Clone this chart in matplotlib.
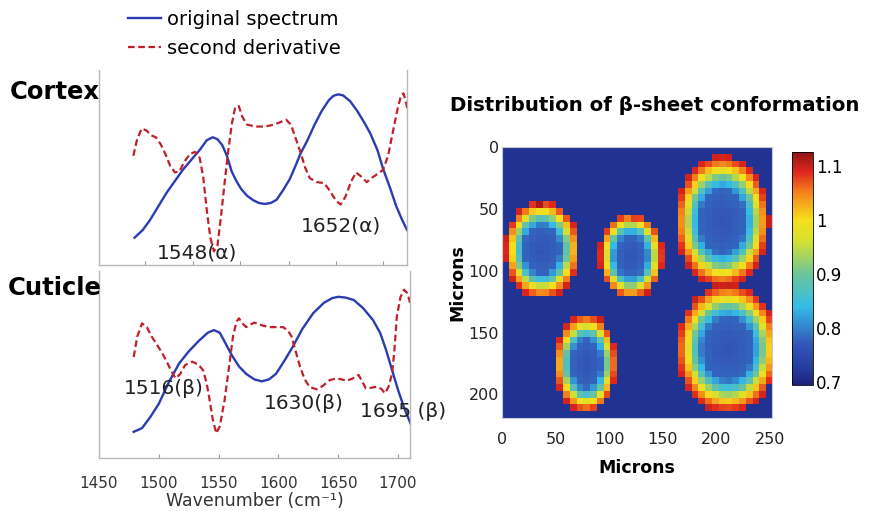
import numpy as np
import matplotlib
matplotlib.use('Agg')
import matplotlib.pyplot as plt
from matplotlib.colors import LinearSegmentedColormap, Normalize

# ── Spectra (wavenumber, relative height in panel) ───────────────────────────
CORTEX_WN_BLUE = [1480, 1487, 1493, 1500, 1507, 1514, 1521, 1528, 1535, 1541, 1546, 1550,
                  1554, 1558, 1562, 1566, 1570, 1575, 1580, 1585, 1590, 1595, 1600, 1605,
                  1611, 1616, 1620, 1626, 1632, 1638, 1644, 1648, 1652, 1656, 1662, 1668,
                  1674, 1679, 1685, 1690, 1696, 1701, 1706, 1710]
CORTEX_BLUE = [0.14, 0.18, 0.23, 0.30, 0.37, 0.43, 0.49, 0.54, 0.59, 0.64, 0.655, 0.645,
               0.615, 0.56, 0.48, 0.43, 0.39, 0.355, 0.333, 0.318, 0.313, 0.318, 0.335, 0.38,
               0.44, 0.51, 0.57, 0.64, 0.72, 0.79, 0.845, 0.868, 0.875, 0.87, 0.84, 0.79,
               0.73, 0.675, 0.59, 0.49, 0.39, 0.30, 0.23, 0.18]

CORTEX_WN_RED = [1479, 1482, 1486, 1490, 1494, 1498, 1502, 1506, 1510, 1514, 1518, 1522,
                 1527, 1531, 1535, 1538, 1541, 1544, 1547, 1550, 1553, 1556, 1559, 1562,
                 1565, 1568, 1571, 1575, 1582, 1590, 1598, 1604, 1608, 1612, 1616, 1620,
                 1624, 1628, 1634, 1640, 1645, 1650, 1654, 1658, 1663, 1667, 1672, 1676,
                 1681, 1686, 1690, 1694, 1698, 1702, 1705, 1707, 1709, 1711]
CORTEX_RED = [0.56, 0.64, 0.70, 0.69, 0.665, 0.655, 0.62, 0.57, 0.51, 0.475, 0.48, 0.53,
              0.57, 0.58, 0.55, 0.45, 0.28, 0.14, 0.07, 0.10, 0.25, 0.42, 0.58, 0.72,
              0.81, 0.815, 0.76, 0.72, 0.71, 0.71, 0.72, 0.735, 0.745, 0.72, 0.65, 0.58,
              0.50, 0.445, 0.425, 0.42, 0.38, 0.33, 0.31, 0.35, 0.43, 0.475, 0.45, 0.425,
              0.45, 0.47, 0.49, 0.56, 0.68, 0.80, 0.87, 0.88, 0.84, 0.78]

CUTICLE_WN_BLUE = [1479, 1486, 1493, 1500, 1508, 1517, 1525, 1534, 1541, 1546, 1551, 1556,
                   1561, 1567, 1573, 1580, 1586, 1592, 1598, 1605, 1612, 1620, 1629, 1638,
                   1645, 1650, 1656, 1663, 1671, 1679, 1685, 1690, 1695, 1700, 1705, 1711]
CUTICLE_BLUE = [0.14, 0.16, 0.22, 0.29, 0.40, 0.506, 0.57, 0.63, 0.67, 0.684, 0.67, 0.61,
                0.55, 0.49, 0.45, 0.42, 0.41, 0.42, 0.45, 0.52, 0.595, 0.69, 0.774, 0.83,
                0.855, 0.862, 0.858, 0.845, 0.80, 0.738, 0.67, 0.578, 0.47, 0.364, 0.27, 0.176]

CUTICLE_WN_RED = [1479, 1482, 1486, 1490, 1494, 1498, 1502, 1506, 1510, 1514, 1518, 1522,
                  1528, 1533, 1537, 1540, 1542, 1545, 1548, 1551, 1555, 1559, 1562, 1565,
                  1567, 1570, 1573, 1577, 1580, 1586, 1592, 1598, 1604, 1608, 1611, 1614,
                  1618, 1622, 1626, 1632, 1637, 1643, 1649, 1653, 1657, 1662, 1667, 1670,
                  1673, 1678, 1682, 1686, 1689, 1692, 1695, 1697, 1699, 1702, 1705, 1708, 1710]
CUTICLE_RED = [0.54, 0.65, 0.72, 0.70, 0.65, 0.61, 0.57, 0.524, 0.47, 0.426, 0.45, 0.497,
               0.515, 0.50, 0.47, 0.40, 0.328, 0.21, 0.132, 0.17, 0.31, 0.50, 0.65, 0.73,
               0.747, 0.72, 0.70, 0.715, 0.724, 0.71, 0.70, 0.70, 0.70, 0.68, 0.65, 0.58,
               0.49, 0.42, 0.38, 0.367, 0.385, 0.417, 0.426, 0.42, 0.413, 0.425, 0.444, 0.41,
               0.373, 0.376, 0.381, 0.37, 0.346, 0.38, 0.45, 0.58, 0.756, 0.86, 0.90, 0.88, 0.83]

CORTEX_NOTES = [('1548(α)', 1533, 0.06), ('1652(α)', 1654, 0.20)]
CUTICLE_NOTES = [('1516(β)', 1504, 0.374), ('1630(β)', 1621, 0.294), ('1695 (β)', 1704, 0.246)]

TOP_TICKS = [1489, 1529, 1569, 1610, 1650, 1690]
BOTTOM_TICKS = [1450, 1500, 1550, 1600, 1650, 1700]

# ── β-sheet map: fibre cross-sections as ellipses (microns) ─────────────────
ELL_CX = [37, 120, 205, 210, 78]
ELL_CY = [83, 88, 60, 163, 175]
ELL_RX = [35, 30, 44, 48, 29]
ELL_RY = [40, 35, 53, 52, 40]
# ratio profile from core (r=0) to rim (r=1)
R_KNOTS = [0.0, 0.48, 0.6, 0.7, 0.78, 0.86, 0.93, 1.0]
V_KNOTS = [0.765, 0.78, 0.85, 0.92, 0.99, 1.04, 1.08, 1.10]
# small extra-high spots (x, y, value)
SPOTS = [(37, 47, 1.115), (120, 55, 1.08)]
BACKGROUND = 0.715
MAP_W, MAP_H = 252, 219
NCOL, NROW = 40, 40

CB_TICKS = [0.7, 0.8, 0.9, 1.0, 1.1]
CB_LABELS = ['0.7', '0.8', '0.9', '1', '1.1']
VMIN, VMAX = 0.694, 1.126

CMAP_VALUES = [0.694, 0.72, 0.77, 0.84, 0.90, 0.96, 1.0, 1.05, 1.09, 1.126]
CMAP_COLORS = ['#1c2378', '#23389a', '#3358b8', '#35bde6', '#6cc49a', '#d5e030',
               '#f7df1c', '#f5861c', '#e0261e', '#8e1414']

BLUE = '#2a3cb0'
RED = '#c0202a'

W, H = 873, 511
fig = plt.figure(figsize=(W / 100, H / 100), dpi=100)


def fbox(left, top, right, bottom):
    return [left / W, 1 - bottom / H, (right - left) / W, (bottom - top) / H]


def style_spectrum(ax, ticks):
    ax.set_xlim(1450, 1710)
    ax.set_ylim(0, 1)
    ax.set_yticks([])
    ax.spines['top'].set_visible(False)
    for s in ['left', 'right', 'bottom']:
        ax.spines[s].set_color('#b8b8b8')
        ax.spines[s].set_linewidth(1.0)
    ax.set_xticks(ticks)
    ax.tick_params(axis='x', direction='in', length=3, color='#999999',
                   labelsize=11, labelcolor='#333333', pad=13)


ax1 = fig.add_axes(fbox(99, 70, 407, 265))
l1, = ax1.plot(CORTEX_WN_BLUE, CORTEX_BLUE, color=BLUE, lw=1.7)
l2, = ax1.plot(CORTEX_WN_RED, CORTEX_RED, color=RED, lw=1.6, ls=(0, (3, 1.6)))
style_spectrum(ax1, TOP_TICKS)
ax1.set_xticklabels([])
for txt, x, y in CORTEX_NOTES:
    ax1.text(x, y, txt, fontsize=14.5, ha='center', va='center', color='#222222')

ax2 = fig.add_axes(fbox(99, 271, 410, 458))
ax2.plot(CUTICLE_WN_BLUE, CUTICLE_BLUE, color=BLUE, lw=1.7)
ax2.plot(CUTICLE_WN_RED, CUTICLE_RED, color=RED, lw=1.6, ls=(0, (3, 1.6)))
style_spectrum(ax2, BOTTOM_TICKS)
ax2.set_xlabel('Wavenumber (cm\u207b\u00b9)', fontsize=12.5, color='#333333', labelpad=1)
for txt, x, y in CUTICLE_NOTES:
    ax2.text(x, y, txt, fontsize=14.5, ha='center', va='center', color='#222222')

fig.text(10 / W, 1 - 92 / H, 'Cortex', fontsize=17.5, fontweight='bold', va='center')
fig.text(8 / W, 1 - 288 / H, 'Cuticle', fontsize=17.5, fontweight='bold', va='center')

fig.legend([l1, l2], ['original spectrum', 'second derivative'], loc='upper left',
           bbox_to_anchor=(128 / W, 1 - 10 / H), frameon=False, fontsize=14,
           handlelength=1.7, handletextpad=0.3, labelspacing=0.5,
           borderpad=0, borderaxespad=0)

# ── heat map ────────────────────────────────────────────────────────────────
xc = (np.arange(NCOL) + 0.5) * MAP_W / NCOL
yc = (np.arange(NROW) + 0.5) * MAP_H / NROW
X, Y = np.meshgrid(xc, yc)
field = np.full(X.shape, BACKGROUND)
for cx, cy, rx, ry in zip(ELL_CX, ELL_CY, ELL_RX, ELL_RY):
    r = np.sqrt(((X - cx) / rx) ** 2 + ((Y - cy) / ry) ** 2)
    val = np.interp(r, R_KNOTS, V_KNOTS)
    field = np.where(r <= 1.0, np.maximum(field, val), field)
for sx, sy, sv in SPOTS:
    field[int(sy / MAP_H * NROW), int(sx / MAP_W * NCOL)] = sv

pos = [(v - VMIN) / (VMAX - VMIN) for v in CMAP_VALUES]
cmap = LinearSegmentedColormap.from_list('beta', list(zip(pos, CMAP_COLORS)))

ax3 = fig.add_axes(fbox(502, 147, 772, 418))
im = ax3.imshow(field, cmap=cmap, norm=Normalize(VMIN, VMAX), aspect='auto',
                extent=[0, MAP_W, MAP_H, 0], interpolation='nearest')
ax3.set_xticks([0, 50, 100, 150, 200, 250])
ax3.set_yticks([0, 50, 100, 150, 200])
ax3.tick_params(length=0, labelsize=11.5, labelcolor='#222222')
ax3.tick_params(axis='x', pad=10)
ax3.tick_params(axis='y', pad=2)
for s in ax3.spines.values():
    s.set_color('#c8c8d8')
    s.set_linewidth(0.8)
ax3.set_xlabel('Microns', fontsize=12.5, fontweight='bold', labelpad=9)
ax3.set_ylabel('Microns', fontsize=12.5, fontweight='bold', labelpad=2)
ax3.set_title('Distribution of β-sheet conformation', fontsize=14.2, fontweight='bold',
              pad=26, x=0.567)

cax = fig.add_axes(fbox(792, 152, 813, 385))
cb = fig.colorbar(im, cax=cax, ticks=CB_TICKS)
cb.ax.set_yticklabels(CB_LABELS)
cb.ax.tick_params(length=0, labelsize=12, pad=2)
cb.outline.set_linewidth(0.6)

fig.savefig('out.png', dpi=100)
